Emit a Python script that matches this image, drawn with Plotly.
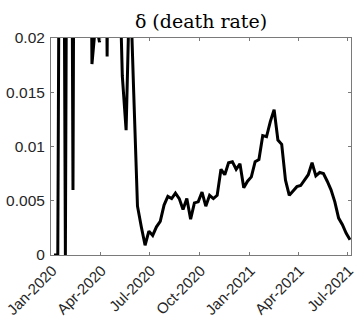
import pandas as pd
import plotly.graph_objects as go

# Weekly estimates of the death rate (delta). The early weeks are dominated by
# very large values that run far above the plotted range.
weeks = pd.date_range("2020-01-06", periods=79, freq="7D")

death_rate = [
    0.0, 0.0, 0.085, 0.0, 0.095, 0.006, 0.11, 0.07, 0.09, 0.065,
    0.0176, 0.0215, 0.0196, 0.06, 0.0183, 0.075, 0.05, 0.03, 0.0165, 0.0115,
    0.026, 0.015, 0.0045, 0.0026, 0.0009, 0.0022, 0.0018, 0.0026, 0.0031, 0.0046,
    0.0054, 0.0052, 0.0057, 0.0052, 0.0042, 0.0052, 0.0033, 0.0048, 0.0049, 0.0058,
    0.0045, 0.0055, 0.0052, 0.0055, 0.0079, 0.0074, 0.0085, 0.0086, 0.0079, 0.0084,
    0.0062, 0.0068, 0.0072, 0.0086, 0.0088, 0.0110, 0.0109, 0.0123, 0.0134, 0.0106,
    0.0102, 0.0069, 0.0055, 0.0059, 0.0063, 0.0064, 0.0069, 0.0074, 0.0085, 0.0073,
    0.0076, 0.0075, 0.0068, 0.0060, 0.0049, 0.0034, 0.0028, 0.0020, 0.0014,
]

x_tick_dates = ["2020-01-01", "2020-04-01", "2020-07-01", "2020-10-01",
                "2021-01-01", "2021-04-01", "2021-07-01"]
x_tick_labels = ["Jan-2020", "Apr-2020", "Jul-2020", "Oct-2020",
                 "Jan-2021", "Apr-2021", "Jul-2021"]
y_tick_values = [0, 0.005, 0.01, 0.015, 0.02]
y_tick_labels = ["0", "0.005", "0.01", "0.015", "0.02"]

fig = go.Figure(
    go.Scatter(
        x=weeks,
        y=death_rate,
        mode="lines",
        line=dict(color="black", width=3),
        hoverinfo="skip",
    )
)

axis_style = dict(
    showline=True,
    linecolor="#7a7a7a",
    linewidth=1,
    mirror="ticks",
    ticks="inside",
    ticklen=3,
    tickcolor="#7a7a7a",
    showgrid=False,
    zeroline=False,
    automargin=False,
    ticklabeloverflow="allow",
)

fig.update_xaxes(
    type="date",
    range=["2019-12-31 11:00", "2021-07-06 20:00"],
    tickmode="array",
    tickvals=x_tick_dates,
    ticktext=x_tick_labels,
    tickangle=-45,
    ticklabelstandoff=0,
    ticklabelshift=1,
    tickfont=dict(family="Liberation Sans, Arial, sans-serif", size=15, color="#262626"),
    **axis_style,
)
fig.update_yaxes(
    range=[0, 0.02],
    tickmode="array",
    tickvals=y_tick_values,
    ticktext=y_tick_labels,
    ticklabelstandoff=2,
    tickfont=dict(family="Liberation Sans, Arial, sans-serif", size=15.5, color="#262626"),
    **axis_style,
)

fig.update_layout(
    width=357,
    height=321,
    margin=dict(l=51, r=6, t=38, b=66),
    paper_bgcolor="white",
    plot_bgcolor="white",
    showlegend=False,
    title=dict(
        text="δ (death rate)",
        font=dict(family="DejaVu Serif, serif", size=19, color="black"),
        x=0.5,
        xref="paper",
        xanchor="center",
        yref="container",
        y=1 - 21 / 321,
        yanchor="middle",
    ),
)

fig.write_html("out.html")
